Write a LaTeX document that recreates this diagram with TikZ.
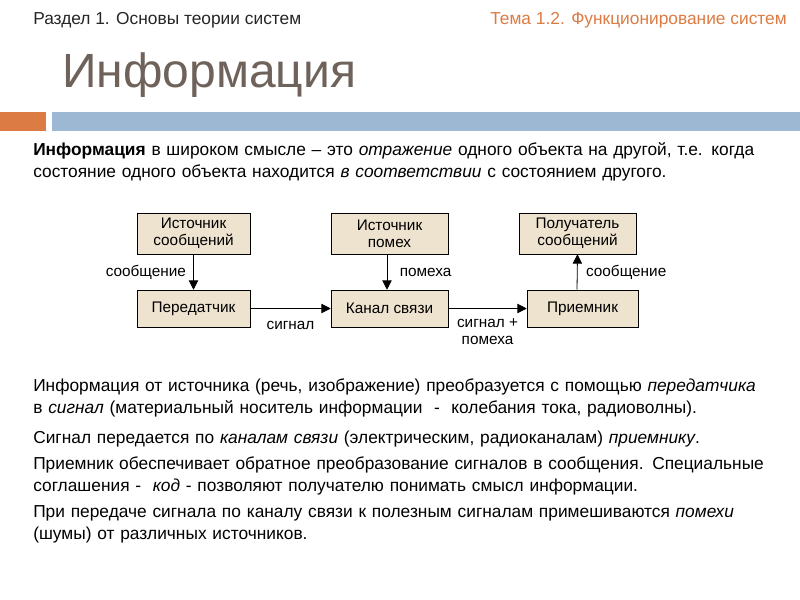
\documentclass[tikz,border=0pt]{standalone}
\usepackage{fontspec}
\setmainfont{Liberation Sans}
\usetikzlibrary{arrows.meta}
\definecolor{boxfill}{HTML}{EEE3CF}
\definecolor{titlec}{HTML}{6E625A}
\definecolor{orangec}{HTML}{DC7C44}
\definecolor{bluec}{HTML}{9CB8D3}
\tikzset{
 blk/.style={draw=black, fill=boxfill, font=\fontsize{11.5}{13}\selectfont, align=center, inner sep=0pt},
 lbl/.style={font=\fontsize{11.5}{13}\selectfont, align=center},
 arr/.style={-{Triangle[length=7pt,width=7pt]}, line width=0.6pt},
 para/.style={anchor=north west, align=left, inner sep=0pt, text width=600pt, font=\fontsize{13}{16.5}\selectfont}
}
\begin{document}
\begin{tikzpicture}[x=0.75pt,y=-0.75pt]
\useasboundingbox (0,0) rectangle (800,600);
\fill[white] (0,0) rectangle (800,600);
\node[anchor=west, inner sep=0pt, font=\fontsize{13}{15}\selectfont, text=black!85] (h1) at (33,20) {Раздел 1. Основы теории систем};
\node[anchor=east, inner sep=0pt, font=\fontsize{13}{15}\selectfont, text=orangec] (h2) at (787,20) {Тема 1.2. Функционирование систем};
\node[anchor=west, inner sep=0pt, font=\fontsize{36}{40}\selectfont, text=titlec] (title) at (62,75) {Информация};
\fill[orangec] (0,112) rectangle (46,131);
\fill[bluec] (52,112) rectangle (800,131);
\node[para] (p0) at (33,142) {\textbf{Информация} в широком смысле – это \textit{отражение} одного объекта на другой, т.е. когда\\ состояние одного объекта находится \textit{в соответствии} с состоянием другого.};
\node[blk, minimum width=84.75pt, minimum height=30.75pt, text width=84pt] (src) at (193.5,233.5) {Источник\\сообщений};
\node[blk, minimum width=87.75pt, minimum height=30.75pt, text width=84pt] (noise) at (389.5,233.5) {Источник\\помех};
\node[blk, minimum width=87.75pt, minimum height=30.75pt, text width=84pt] (rcv) at (577.5,233.5) {Получатель\\сообщений};
\node[blk, minimum width=84.75pt, minimum height=27.75pt] (tx) at (193.5,308.5) {Передатчик};
\node[blk, minimum width=87.75pt, minimum height=27.75pt] (ch) at (389.5,308.5) {Канал связи};
\node[blk, minimum width=83.25pt, minimum height=27.75pt] (rx) at (582.5,308.5) {Приемник};
\draw[arr] (src) -- (tx) node[lbl, midway, left=2pt] {сообщение};
\draw[arr] (noise.south -| 387,0) -- (ch.north -| 387,0) node[lbl, midway, right=6pt] {помеха};
\draw[arr] (tx) -- (ch) node[lbl, midway, below=6pt] {сигнал};
\draw[arr] (ch) -- (rx) node[lbl, midway, below=4pt] {сигнал +\\помеха};
\draw[arr] (rx.north -| 577,0) -- (rcv.south) node[lbl, midway, right=3pt] {сообщение};
\node[para] (p1) at (33,379) {Информация от источника (речь, изображение) преобразуется с помощью \textit{передатчика}\\ в \textit{сигнал} (материальный носитель информации \ - \ колебания тока, радиоволны).};
\node[para] (p2) at (33,431) {Сигнал передается по \textit{каналам связи} (электрическим, радиоканалам) \textit{приемнику}.};
\node[para] (p3) at (33,457) {Приемник обеспечивает обратное преобразование сигналов в сообщения. Специальные\\ соглашения - \ \textit{код} - позволяют получателю понимать смысл информации.};
\node[para] (p4) at (33,505) {При передаче сигнала по каналу связи к полезным сигналам примешиваются \textit{помехи}\\ (шумы) от различных источников.};
\end{tikzpicture}
\end{document}
